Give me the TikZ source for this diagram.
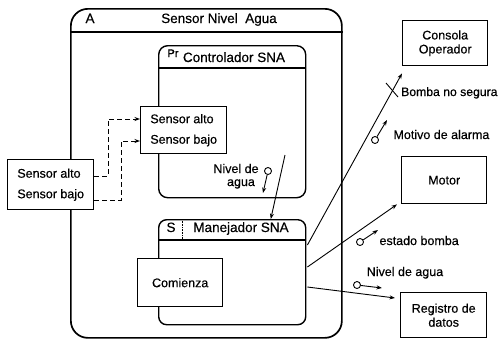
\documentclass[tikz,border=0pt]{standalone}
\usepackage{fontspec}
\setmainfont{Liberation Sans}[FakeBold=0.4]
\usetikzlibrary{arrows.meta,calc}
\begin{document}
\begin{tikzpicture}[x=1bp,y=-1bp,
  box/.style={draw,line width=1.4bp,fill=white,inner sep=0pt},
  body/.style={font=\fontsize{12.5bp}{14bp}\selectfont},
  bodywide/.style={font=\fontsize{12.5bp}{20.5bp}\selectfont},
  head/.style={font=\fontsize{13.5bp}{16bp}\selectfont},
  small/.style={font=\fontsize{11bp}{13bp}\selectfont},
  conn/.style={line width=0.9bp,-{Stealth[length=5.5bp,width=4bp]}},
  dconn/.style={conn,dash pattern=on 5bp off 3bp},
  tok/.style={draw,circle,line width=0.9bp,minimum size=7bp,inner sep=0pt},
]
\useasboundingbox (0,0) rectangle (499,342);

% outer container A
\node[box, rounded corners=17bp, line width=1.7bp, anchor=north west,
      minimum width=271bp, minimum height=329bp] (A) at (70,8) {};
\draw[line width=1.3bp] ($(A.north west)+(0,24)$) -- ($(A.north east)+(0,24)$);
\node[head, anchor=base west] (Alab) at (82,23) {A};
\node[head, anchor=base] (Atitle) at (219,23) {Sensor Nivel\ \ Agua};

% Controlador SNA
\node[box, rounded corners=9bp, anchor=north west,
      minimum width=147bp, minimum height=152bp] (ctl) at (158,45) {};
\draw[line width=1.3bp] ($(ctl.north west)+(0,23)$) -- ($(ctl.north east)+(0,23)$);
\node[small, anchor=base west] (ctlpr) at (164,57) {Pr};
\node[head, anchor=base] (ctltitle) at (234,62) {Controlador SNA};

% inner sensor box
\node[box, bodywide, align=left, anchor=north west,
      minimum width=86bp, minimum height=47bp] (sin) at (140,106) {Sensor alto\\Sensor bajo};

% outer sensor box
\node[box, bodywide, align=left, anchor=north west,
      minimum width=86bp, minimum height=50bp] (sout) at (7,159) {Sensor alto\\Sensor bajo};

% Manejador SNA
\node[box, rounded corners=8bp, anchor=north west,
      minimum width=147bp, minimum height=105bp] (man) at (158,219) {};
\draw[line width=1.3bp] ($(man.north west)+(0,21)$) -- ($(man.north east)+(0,21)$);
\draw[densely dotted, line width=0.6bp] ($(man.north west)+(24,0)$) -- ($(man.north west)+(24,21)$);
\node[head, anchor=base] (manS) at (171,232) {S};
\node[head, anchor=base] (mantitle) at (241,232) {Manejador SNA};

% Comienza
\node[box, body, anchor=north west, minimum width=85bp, minimum height=48bp] (com) at (137,258) {Comienza};

% external boxes
\node[box, body, align=center, anchor=north west, minimum width=85bp, minimum height=45bp] (cons) at (402,20) {Consola\\Operador};
\node[box, body, anchor=north west, minimum width=85bp, minimum height=47bp] (motor) at (401,156) {Motor};
\node[box, body, align=center, anchor=north west, minimum width=86bp, minimum height=45bp] (reg) at (400,292) {Registro de\\datos};

% dashed sensor connections
\coordinate (d1a) at (108,176);
\coordinate (d1b) at (108,119);
\coordinate (d2a) at (121,200);
\coordinate (d2b) at (121,141);
\draw[dconn] (sout.east |- d1a) -- (d1a) -- (d1b) -- (sin.west |- d1b);
\draw[dconn] (sout.east |- d2a) -- (d2a) -- (d2b) -- (sin.west |- d2b);

% Controlador -> Manejador
\coordinate (c1) at (285,155);
\draw[conn] (c1) -- ($(man.north west)!0.76!(man.north east)$);
\node[body, anchor=base] (niv1a) at (236,173) {Nivel de};
\node[body, anchor=base] (niv1b) at (241,186) {agua};
\node[tok] (t4) at (268,171) {};
\coordinate (t4e) at (263,193);
\draw[conn] (t4) -- (t4e);

% Manejador -> Consola
\draw[conn] ($(man.north east)+(1,26)$) -- ($(cons.south west)+(0,7)$);
\draw[line width=0.9bp] (386,83) -- (398,97);
\node[font=\fontsize{12.2bp}{14bp}\selectfont, anchor=base west, inner sep=0pt] (bns) at (401,96) {Bomba no segura};
\node[tok] (t1) at (375,140) {};
\coordinate (t1e) at (387,120);
\draw[conn] (t1) -- (t1e);
\node[body, anchor=base west] (mot) at (390,139) {Motivo de alarma};

% Manejador -> Motor
\draw[conn] ($(man.north east)+(1,48)$) -- ($(motor.south west)+(-4,0)$);
\node[tok] (t2) at (360,242) {};
\coordinate (t2e) at (378,230);
\draw[conn] (t2) -- (t2e);
\node[body, anchor=base west] (est) at (376,245) {estado bomba};

% Manejador -> Registro
\draw[conn] ($(man.north east)+(1,68)$) -- ($(reg.north west)+(-5,6)$);
\node[body, anchor=base] (niv2) at (405,276) {Nivel de agua};
\node[tok] (t3) at (357,285) {};
\coordinate (t3e) at (382,288);
\draw[conn] (t3) -- (t3e);
\end{tikzpicture}
\end{document}
